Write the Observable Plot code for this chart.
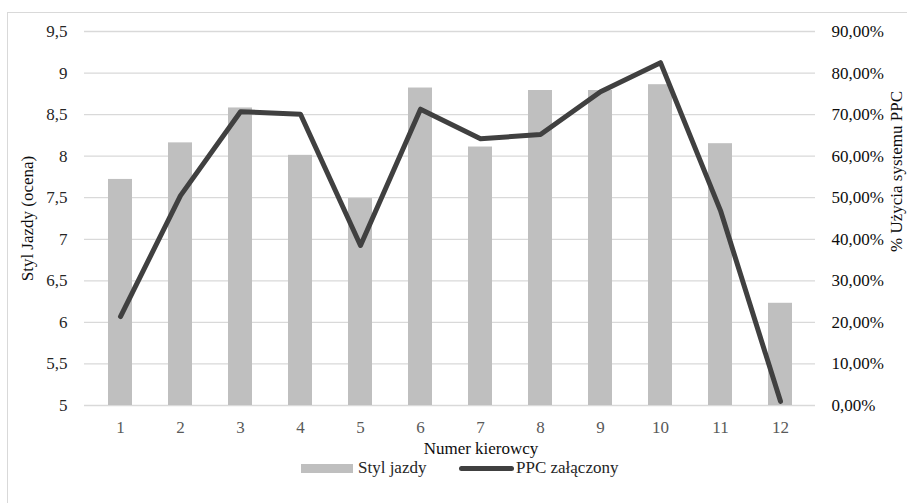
<!DOCTYPE html>
<html>
<head>
<meta charset="utf-8">
<script src="https://cdn.jsdelivr.net/npm/d3@7"></script>
<script src="https://cdn.jsdelivr.net/npm/@observablehq/plot@0.6"></script>
<style>
  html, body { margin: 0; padding: 0; background: #fff; }
  #wrap { position: relative; width: 907px; height: 503px; overflow: hidden; font-family: "Liberation Serif", serif; }
  #frame { position: absolute; left: 7px; top: 12px; width: 1000px; height: 600px; border: 1px solid #d9d9d9; box-sizing: border-box; z-index: 2; pointer-events: none; }
  #chart { position: relative; }
  #chart svg text { font-family: "Liberation Serif", serif !important; }
  #legend { position: relative; height: 53px; font-size: 17px; color: #262626; font-family: "Liberation Serif", serif; }
  #legend .sw-bar { position: absolute; left: 301px; top: 14px; width: 52px; height: 9px; background: #bfbfbf; }
  #legend .sw-line { position: absolute; left: 459px; top: 16px; width: 55px; height: 5px; border-radius: 3px; background: #404040; }
  #legend .lab { position: absolute; top: 9px; line-height: 17px; white-space: nowrap; }
</style>
</head>
<body>
<div id="wrap">
  <div id="frame"></div>
  <div id="chart"></div>
  <div id="legend">
    <div class="sw-bar"></div><span class="lab" style="left:358px">Styl jazdy</span>
    <div class="sw-line"></div><span class="lab" style="left:516px">PPC załączony</span>
  </div>
</div>
<script>
// Driver numbers on the x axis
const drivers = [1, 2, 3, 4, 5, 6, 7, 8, 9, 10, 11, 12];
// Driving style score per driver (left axis)
const styleScores = [7.72, 8.16, 8.58, 8.01, 7.49, 8.82, 8.11, 8.79, 8.79, 8.86, 8.15, 6.23];
// Share of time the PPC system was switched on (right axis)
const ppcShare = [0.214, 0.505, 0.707, 0.701, 0.385, 0.713, 0.642, 0.652, 0.755, 0.825, 0.469, 0.01];
// Tick values for both vertical axes
const leftTicks = [5, 5.5, 6, 6.5, 7, 7.5, 8, 8.5, 9, 9.5];
const rightTicks = [0, 0.1, 0.2, 0.3, 0.4, 0.5, 0.6, 0.7, 0.8, 0.9];

// Right axis 0–90% shares the plot height with the left axis 5–9.5
const leftDomain = [5, 9.5];
const rightDomain = [0, 0.9];
const toLeft = d3.scaleLinear().domain(rightDomain).range(leftDomain);

const bars = drivers.map((d, i) => ({driver: d, score: styleScores[i]}));
const line = drivers.map((d, i) => ({driver: d, share: ppcShare[i]}));

const fmtLeft = v => String(v).replace(".", ",");
const fmtPct = v => (v * 100).toFixed(2).replace(".", ",") + "%";

const W = 907, H = 450;
const titleStyle = {fill: "#0d0d0d", fontSize: 17, textAnchor: "middle", lineAnchor: "middle"};
const chart = Plot.plot({
  width: W,
  height: H,
  marginLeft: 84,
  marginRight: 92,
  marginTop: 31,
  marginBottom: 45,
  style: {fontFamily: "Liberation Serif, serif", fontSize: "17px", background: "transparent", overflow: "visible"},
  x: {type: "band", domain: drivers, paddingInner: 0.6, paddingOuter: 0.3},
  y: {domain: leftDomain},
  marks: [
    Plot.gridY(leftTicks, {stroke: "#d9d9d9", strokeOpacity: 1, strokeWidth: 1.3}),
    Plot.barY(bars, {x: "driver", y1: () => leftDomain[0], y2: "score", fill: "#bfbfbf"}),
    Plot.line(line, {x: "driver", y: d => toLeft(d.share), stroke: "#404040", strokeWidth: 5, strokeLinejoin: "round", strokeLinecap: "round"}),
    Plot.axisY(leftTicks, {anchor: "left", tickSize: 0, tickPadding: 17, tickFormat: fmtLeft, fill: "#262626", label: null}),
    Plot.axisY(rightTicks.map(toLeft), {anchor: "right", tickSize: 0, tickPadding: 16, tickFormat: v => fmtPct(toLeft.invert(v)), fill: "#0d0d0d", label: null}),
    Plot.axisX(drivers, {tickSize: 0, tickPadding: 15, fill: "#595959", label: null}),
    Plot.text(["Styl Jazdy (ocena)"], {frameAnchor: "left", rotate: -90, dx: -57, ...titleStyle}),
    Plot.text(["% Użycia systemu PPC"], {frameAnchor: "right", rotate: -90, dx: 81, dy: -47, ...titleStyle}),
    Plot.text(["Numer kierowcy"], {frameAnchor: "bottom", dx: 31, dy: 43, ...titleStyle})
  ]
});
document.getElementById("chart").appendChild(chart);
</script>
</body>
</html>
